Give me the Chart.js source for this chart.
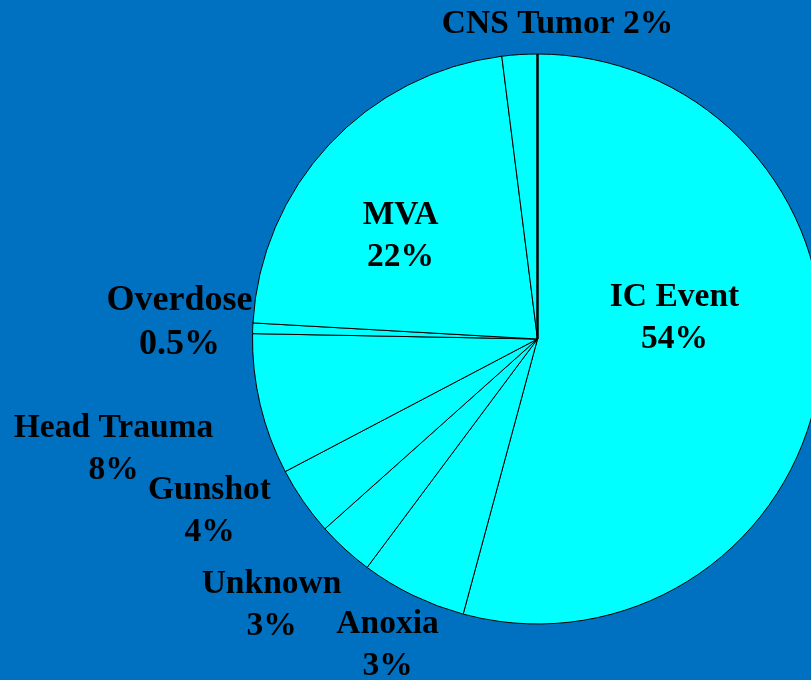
<!DOCTYPE html>
<html>
<head>
<meta charset="utf-8">
<script src="https://cdn.jsdelivr.net/npm/chart.js@4"></script>
<style>
  html, body { margin:0; padding:0; background:#0070C0; }
  #wrap { width:811px; height:680px; overflow:hidden; position:relative; }
  #chart { position:absolute; left:0; top:0; }
</style>
</head>
<body>
<div id="wrap"><canvas id="chart" width="900" height="680"></canvas></div>
<script>
// Causes (pie, clockwise from 12 o'clock). Slice sizes;
// the printed percentages are kept as the slide shows them.
const CATEGORIES = ["IC Event","Anoxia","Unknown","Gunshot","Head Trauma","Overdose","MVA","CNS Tumor"];
const SLICE_VALUES = [54.2, 6.0, 3.2, 3.9, 8.0, 0.6, 22.1, 2.0];
const PCT_TEXT = ["54%","3%","3%","4%","8%","0.5%","22%","2%"];

// label placement: offset of first-line baseline centre from the pie centre
const LABEL_POS = [
  {dx:137, dy:-33}, {dx:-150, dy:294}, {dx:-266, dy:254}, {dx:-328, dy:160},
  {dx:-424, dy:98}, {dx:-358, dy:-29, size:36, gap:44}, {dx:-137, dy:-115}, {dx:20, dy:-306, oneLine:true}
];
const LINE_GAP = 41.5;
const fontOf = s => `bold ${s}px 'Liberation Serif', 'Times New Roman', serif`;

const labelPlugin = {
  id:"slideLabels",
  afterDatasetsDraw(chart){
    const ctx = chart.ctx, arcs = chart.getDatasetMeta(0).data;
    const a0 = arcs[0], cx = a0.x, cy = a0.y;
    // heavier start line at 12 o'clock
    ctx.save();
    ctx.strokeStyle = "#000"; ctx.lineWidth = 2.5;
    ctx.beginPath();
    ctx.moveTo(cx, cy);
    ctx.lineTo(cx + a0.outerRadius*Math.cos(a0.startAngle), cy + a0.outerRadius*Math.sin(a0.startAngle));
    ctx.stroke();
    ctx.fillStyle = "#000";
    ctx.textAlign = "center"; ctx.textBaseline = "alphabetic";
    CATEGORIES.forEach((c,i)=>{
      const p = LABEL_POS[i];
      ctx.font = fontOf(p.size || 33.5);
      if(p.oneLine){ ctx.fillText(c+" "+PCT_TEXT[i], cx+p.dx, cy+p.dy); return; }
      ctx.fillText(c, cx+p.dx, cy+p.dy);
      ctx.fillText(PCT_TEXT[i], cx+p.dx, cy+p.dy+(p.gap || LINE_GAP));
    });
    ctx.restore();
  }
};

new Chart(document.getElementById("chart"), {
  type:"pie",
  data:{ labels:CATEGORIES, datasets:[{
    data:SLICE_VALUES, backgroundColor:"#00FFFF", borderColor:"#000", borderWidth:1
  }]},
  options:{
    responsive:false, animation:false, radius:285,
    layout:{padding:{left:253, right:78, top:54, bottom:56}},
    plugins:{legend:{display:false}, tooltip:{enabled:false}}
  },
  plugins:[labelPlugin]
});
</script>
</body>
</html>
